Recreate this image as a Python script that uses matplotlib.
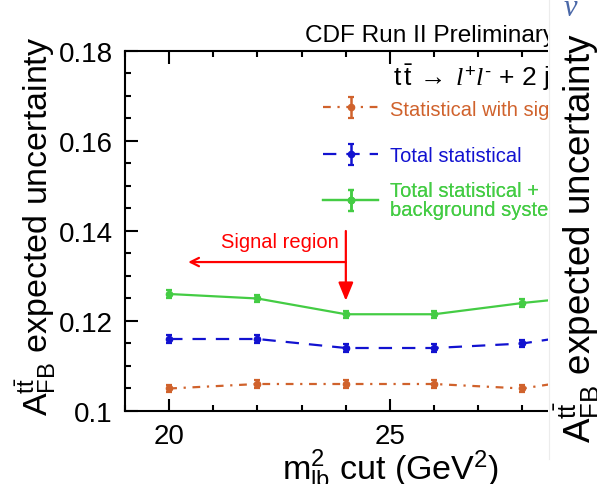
import matplotlib
matplotlib.use("Agg")
import matplotlib.pyplot as plt
from matplotlib.ticker import MultipleLocator, FuncFormatter
from matplotlib.patches import Rectangle
from matplotlib.lines import Line2D

plt.rcParams["font.family"] = ["Liberation Sans", "DejaVu Sans"]
plt.rcParams["mathtext.fontset"] = "custom"
plt.rcParams["mathtext.rm"] = "Liberation Sans"
plt.rcParams["mathtext.it"] = "Liberation Serif:italic"
plt.rcParams["mathtext.bf"] = "Liberation Sans:bold"

# m_lb^2 cut values (GeV^2) and expected A_FB uncertainties
cuts = [20, 22, 24, 26, 28, 30]
stat_signal = [0.105, 0.106, 0.106, 0.106, 0.105, 0.108]
total_stat = [0.116, 0.116, 0.114, 0.114, 0.115, 0.118]
total_stat_bkg = [0.126, 0.125, 0.1215, 0.1215, 0.124, 0.126]
err_signal = [0.0008] * 6
err_stat = [0.0008] * 6
err_bkg = [0.0008] * 6

labels = ["Statistical with signal only",
          "Total statistical",
          "Total statistical +\nbackground systematics"]
colors = ["#d0622c", "#1212d0", "#44cc44"]

W, H = 597, 485
fig = plt.figure(figsize=(W / 100, H / 100), dpi=100)
ax = fig.add_axes([125 / W, 73 / H, (655 - 125) / W, 360 / H])

styles = [dict(dashes=(3.5, 3, 1, 3)), dict(dashes=(6, 4.5)), dict(linestyle="-")]
series = [(stat_signal, err_signal), (total_stat, err_stat), (total_stat_bkg, err_bkg)]
handles = []
for (vals, errs), col, st in zip(series, colors, styles):
    h = ax.errorbar(cuts, vals, yerr=errs, color=col, lw=1.6, marker="o", ms=4.5,
                    elinewidth=1.8, capsize=2.2, capthick=1.6, **st)
    handles.append(h)

ax.set_xlim(19, 31)
ax.set_ylim(0.1, 0.18)
ax.xaxis.set_major_locator(MultipleLocator(5))
ax.xaxis.set_minor_locator(MultipleLocator(1))
ax.yaxis.set_major_locator(MultipleLocator(0.02))
ax.yaxis.set_minor_locator(MultipleLocator(0.005))
ax.yaxis.set_major_formatter(FuncFormatter(lambda v, p: "%g" % round(v, 3)))
ax.tick_params(which="both", direction="in", top=True, right=False, width=1.5,
               labelsize=20, pad=9)
ax.tick_params(which="major", length=9)
ax.tick_params(which="minor", length=4.5)
for s in ax.spines.values():
    s.set_linewidth(1.5)
ax.spines["right"].set_visible(False)

ax.set_ylabel(r"$\mathrm{A}_{\mathrm{FB}}^{\mathrm{t\bar{t}}}$ expected uncertainty", fontsize=24.5)
ax.yaxis.set_label_coords(-0.126, 0.517)
ax.set_xlabel(r"$\mathrm{m}_{\mathrm{lb}}^{2}$ cut (GeV$^{2}$)", fontsize=24.5)
ax.xaxis.set_label_coords((391 - 125) / (655 - 125), -0.098)

# signal region arrows
ax.annotate("", xy=(24, 0.1245), xytext=(24, 0.140),
            arrowprops=dict(arrowstyle="-|>,head_length=1.1,head_width=0.45",
                            color="red", lw=1.6, shrinkA=0, shrinkB=0))
ax.annotate("", xy=(20.43, 0.1331), xytext=(24, 0.1331),
            arrowprops=dict(arrowstyle="->,head_length=0.6,head_width=0.3",
                            color="red", lw=1.6, shrinkA=0, shrinkB=0))
ax.text(22.5, 0.1376, "Signal region", color="red", fontsize=14.5, ha="center", va="center")

# legend entries
rows_y = [110, 157, 201]
for h, lab, col, y in zip(handles, labels, colors, rows_y):
    leg = ax.legend([h], [lab], loc="center left", frameon=False, fontsize=14.5,
                    handlelength=2.75, handletextpad=0.6, borderpad=0, borderaxespad=0,
                    bbox_to_anchor=(323 / W, 1 - y / H), bbox_transform=fig.transFigure)
    for t in leg.get_texts():
        t.set_color(col)
        t.set_linespacing(1.0)
    ax.add_artist(leg)

fig.text(305 / W, 1 - 42 / H, "CDF Run II Preliminary", fontsize=17.6, va="baseline", ha="left")
fig.text(393 / W, 1 - 86 / H,
         r"$\mathrm{t}\,\mathrm{\bar{t}}\;\rightarrow\;\mathit{l}^{+}\mathit{l}^{\text{-}}$ + 2 jets",
         fontsize=19, va="baseline", ha="left")

# neighbouring panel strip
fig.add_artist(Rectangle((548 / W, 0), (W - 548) / W, 1, transform=fig.transFigure,
                         facecolor="white", edgecolor="none", zorder=5))
fig.add_artist(Line2D([548.5 / W, 548.5 / W], [1 - 460 / H, 1], transform=fig.transFigure,
                      color="#ececec", lw=0.8, zorder=6))
fig.text(570 / W, 1 - 9 / H, "ν", fontsize=22, color="#4a68a8", family="Liberation Serif",
         style="italic", ha="center", va="center", zorder=6)
fig.text(577 / W, 1 - 238 / H,
         r"$\mathrm{A}_{\mathrm{FB}}^{\mathrm{t\bar{t}}}$ expected uncertainty",
         fontsize=26.5, rotation=90, ha="center", va="center", zorder=6)

fig.savefig("out.png", dpi=100, facecolor="white")
